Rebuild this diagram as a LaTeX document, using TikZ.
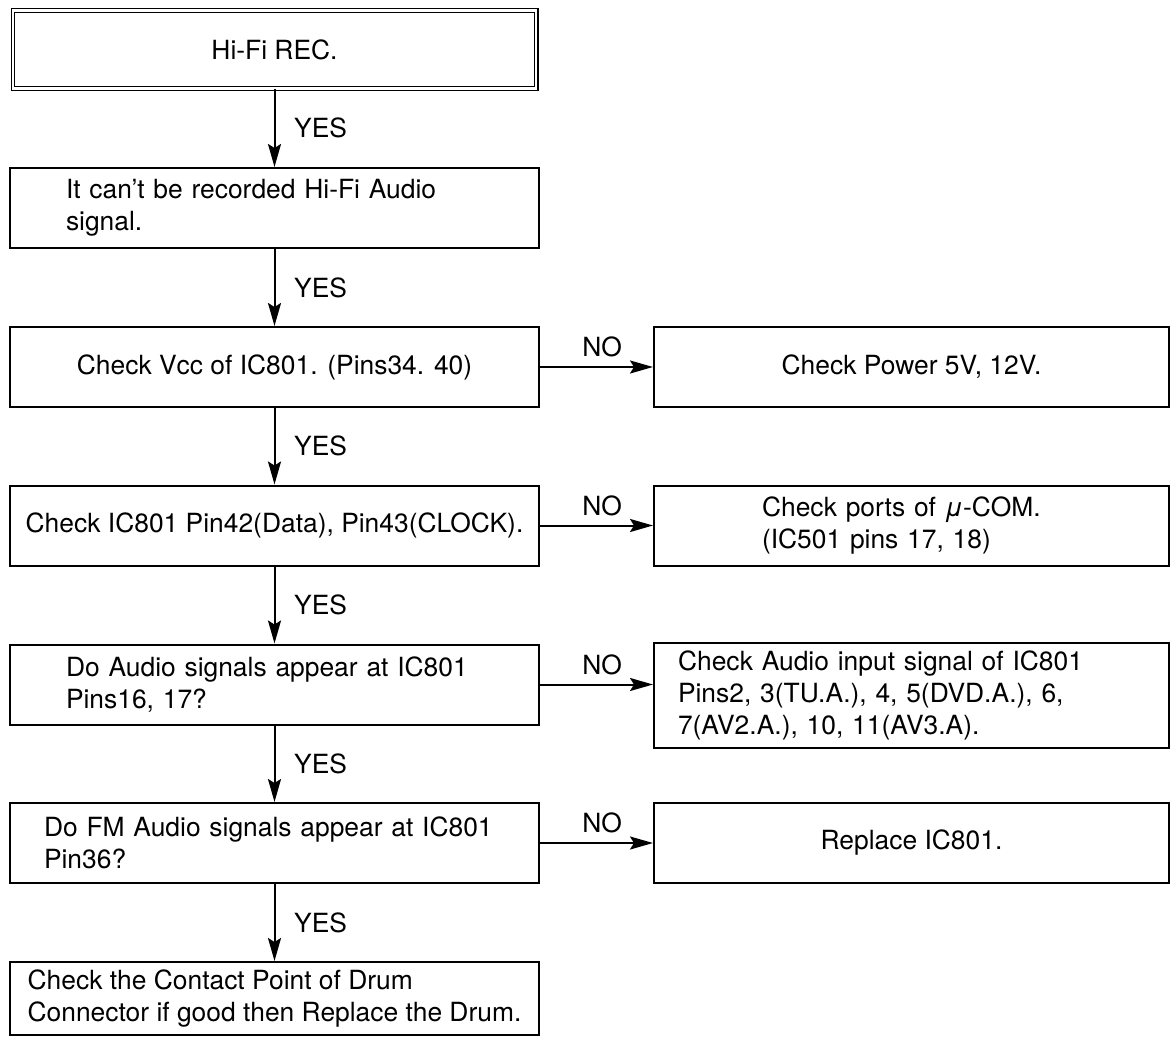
\documentclass[tikz,border=0pt]{standalone}
\usepackage{fontspec}
\setmainfont{TeX Gyre Heros}
\usetikzlibrary{arrows.meta}

\begin{document}
\begin{tikzpicture}[x=0.5pt, y=-0.5pt,
	every node/.style={font=\fontsize{13.2pt}{16pt}\selectfont},
	box/.style={draw, line width=1pt, minimum width=264.5pt, minimum height=40pt},
	rbox/.style={box, minimum width=257.5pt},
	lbox/.style 2 args={box, align=left, inner xsep=#1, text width=#2},
	flow/.style={line width=1pt, -{Stealth[length=11.5pt, width=6.5pt, inset=2pt]}},
	yes/.style={midway, right=6pt},
	no/.style={pos=0.55, above=1pt}]
	\useasboundingbox (0,0) rectangle (1171,1037);
	% left column
	\node[box, double, line width=0.6pt, double distance=1.2pt, minimum width=261.6pt, minimum height=39pt] (rec) at (274.5,49.5) {Hi-Fi REC.};
	\node[lbox={28pt}{208.5pt}] (nosig) at (274.5,208) {It can’t be recorded Hi-Fi Audio\\signal.};
	\node[box] (vcc) at (274.5,367) {Check Vcc of IC801. (Pins34. 40)};
	\node[box, inner xsep=1pt] (bus) at (274.5,525.5) {Check IC801 Pin42(Data), Pin43(CLOCK).};
	\node[lbox={28pt}{208.5pt}] (ain) at (274.5,684.5) {Do Audio signals appear at IC801\\Pins16, 17?};
	\node[lbox={17pt}{230.5pt}] (fm) at (274.5,843) {Do FM Audio signals appear at IC801\\Pin36?};
	\node[box, align=left, inner xsep=2pt, minimum height=36.5pt] (drum) at (274.5,998.5) {Check the Contact Point of Drum\\Connector if good then Replace the Drum.};
	% right column
	\node[rbox] (pwr) at (911.5,367) {Check Power 5V, 12V.};
	\node[rbox, align=left, inner xsep=54pt, text width=149.5pt] (ports) at (911.5,525.5) {Check ports of \textit{μ}-COM.\\(IC501 pins 17, 18)};
	\node[rbox, align=left, inner xsep=12pt, text width=233.5pt, minimum height=52.5pt] (input) at (911.5,695.5) {Check Audio input signal of IC801\\Pins2, 3(TU.A.), 4, 5(DVD.A.), 6,\\7(AV2.A.), 10, 11(AV3.A).};
	\node[rbox] (rep) at (911.5,843) {Replace IC801.};
	% YES path
	\draw[flow] (rec) -- node[yes] {YES} (nosig);
	\draw[flow] (nosig) -- node[yes] {YES} (vcc);
	\draw[flow] (vcc) -- node[yes] {YES} (bus);
	\draw[flow] (bus) -- node[yes] {YES} (ain);
	\draw[flow] (ain) -- node[yes] {YES} (fm);
	\draw[flow] (fm) -- node[yes] {YES} (drum);
	% NO branches
	\draw[flow] (vcc) -- node[no] {NO} (pwr);
	\draw[flow] (bus) -- node[no] {NO} (ports);
	\draw[flow] (ain) -- node[no] {NO} (ain -| input.west);
	\draw[flow] (fm) -- node[no] {NO} (rep);
\end{tikzpicture}
\end{document}
